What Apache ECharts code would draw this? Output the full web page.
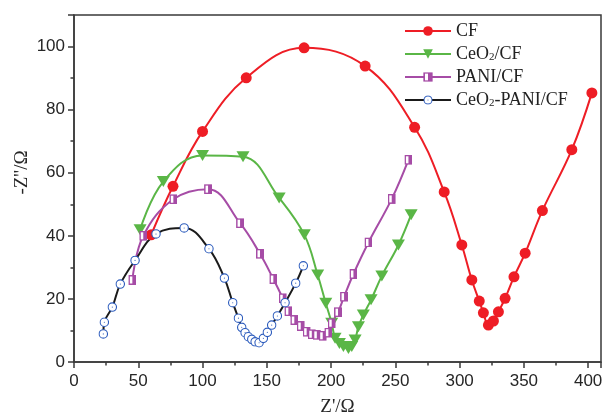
<!DOCTYPE html>
<html>
<head>
<meta charset="utf-8">
<script src="https://cdn.jsdelivr.net/npm/echarts@6.0.0/dist/echarts.min.js"></script>
<style>
  html, body { margin: 0; padding: 0; background: #fff; }
  #chart { width: 605px; height: 419px; }
</style>
</head>
<body>
<div id="chart"></div>
<script>
// series names (legend)
const names = ['CF', 'CeO2/CF', 'PANI/CF', 'CeO2-PANI/CF']

// CF
const cfX = [60, 77, 100, 134, 179, 226.5, 265, 288, 301.7, 309.5, 315.3, 318.5, 322.4, 326.3, 330.2, 335.4, 342.3, 351, 364.4, 387.3, 402.9]
const cfY = [40.3, 55.7, 73.1, 90.1, 99.6, 93.8, 74.4, 53.9, 37.1, 26, 19.3, 15.6, 11.7, 13, 15.9, 20.2, 27, 34.5, 48, 67.3, 85.3]

// CeO2/CF
const ceX = [51.4, 69.5, 100, 131.5, 159.6, 179.2, 189.6, 195.9, 200.5, 203.1, 206.5, 209.6, 213.5, 216.1, 218.7, 221.3, 225.1, 231.1, 239.5, 252.4, 262.3]
const ceY = [41.9, 57.2, 65.5, 65.1, 52, 40.3, 27.6, 18.6, 12.3, 7.5, 5.9, 4.9, 4.3, 4.9, 7.0, 11.2, 14.9, 19.7, 27.3, 37.1, 46.7]

// PANI/CF
const paniX = [45.4, 53.9, 77.3, 104.3, 129.2, 144.7, 155.1, 162.4, 166.8, 171.4, 176.4, 181, 185, 188.9, 193.5, 197.9, 200.5, 205.4, 210.1, 217.4, 229.1, 247.2, 260.2]
const paniY = [26, 40, 51.6, 54.8, 44, 34.3, 26.3, 20.2, 16.1, 13.3, 11.4, 9.6, 8.8, 8.6, 8.3, 9.3, 12.3, 15.8, 20.7, 27.9, 37.9, 51.7, 64.1]

// CeO2-PANI/CF
const mixX = [22.8, 23.6, 29.8, 36, 47.5, 63.8, 85.7, 105, 117, 123.5, 127.9, 130.5, 133.1, 135.6, 138.3, 140.9, 144, 147.3, 150.4, 153.8, 158.2, 164.2, 172.5, 178.4]
const mixY = [8.9, 12.6, 17.4, 24.7, 32.2, 40.6, 42.5, 35.9, 26.6, 18.8, 13.9, 11, 9.3, 8, 7.2, 6.4, 6.1, 7.5, 9.4, 11.7, 14.6, 18.8, 25, 30.5]

const zip = (xs, ys) => xs.map((x, i) => [x, ys[i]])

const svgUrl = (svg) => 'image://data:image/svg+xml;charset=utf-8,' + encodeURIComponent(svg)

// half filled square and dotted open circle markers
const halfSquare = svgUrl(
  "<svg xmlns='http://www.w3.org/2000/svg' width='16' height='20' viewBox='0 0 16 20'>" +
  "<rect x='1.5' y='1.5' width='13' height='17' fill='#fff' stroke='#a64ca6' stroke-width='3'/>" +
  "<rect x='8' y='1.5' width='6.5' height='17' fill='#a64ca6'/></svg>")
const dotCircle = svgUrl(
  "<svg xmlns='http://www.w3.org/2000/svg' width='20' height='20' viewBox='0 0 20 20'>" +
  "<circle cx='10' cy='10' r='8.4' fill='#fff' stroke='#2d5cbd' stroke-width='2.2'/>" +
  "<circle cx='10' cy='10' r='1.1' fill='#2d5cbd'/></svg>")

const serif = 'Liberation Serif'
const sans = 'Liberation Sans'

let chart = echarts.init(document.getElementById('chart'))

const axisCommon = {
  axisLine: { show: true, onZero: false, lineStyle: { color: '#3a3a3a', width: 1.5 } },
  axisTick: { show: true, inside: false, length: 6, lineStyle: { color: '#3a3a3a', width: 1.5 } },
  minorTick: { show: true, splitNumber: 2, length: 3.5, lineStyle: { color: '#3a3a3a', width: 1.5 } },
  splitLine: { show: false },
  axisLabel: { color: '#262626', fontFamily: sans, fontSize: 17, margin: 9, showMaxLabel: false },
  nameTextStyle: { color: '#262626', fontFamily: serif, fontSize: 19 }
}

let option = {
  animation: false,
  backgroundColor: '#fff',
  grid: {
    left: 74, right: 4, top: 15, bottom: 57, containLabel: false, outerBoundsMode: 'none',
    show: true, borderColor: '#3a3a3a', borderWidth: 1.5
  },
  xAxis: Object.assign({}, axisCommon, {
    type: 'value', min: 0, max: 410, interval: 50,
    name: "Z'/Ω", nameLocation: 'middle', nameGap: 36,
    axisLabel: { color: '#262626', fontFamily: sans, fontSize: 17, margin: 11, showMaxLabel: false }
  }),
  yAxis: Object.assign({}, axisCommon, {
    type: 'value', min: 0, max: 110, interval: 20,
    name: "-Z''/Ω", nameLocation: 'middle', nameGap: 42, nameMoveOverlap: false,
    nameTextStyle: { color: '#262626', fontFamily: serif, fontSize: 19, padding: [0, 0, 0, 32] }
  }),
  legend: {
    orient: 'vertical', left: 399, top: 17,
    itemWidth: 46, itemHeight: 12, itemGap: 5,
    data: names,
    textStyle: {
      fontFamily: serif, fontSize: 18, color: '#222', lineHeight: 18,
      rich: {
        sub: { fontFamily: serif, fontSize: 11, color: '#222', lineHeight: 7, verticalAlign: 'bottom' }
      }
    },
    formatter: (name) => name.replace(/O2/g, 'O{sub|2}')
  },
  series: [
    {
      name: names[0], type: 'line', smooth: 0.4, data: zip(cfX, cfY),
      symbol: 'circle', symbolSize: 11,
      lineStyle: { color: '#ee1d25', width: 2 },
      itemStyle: { color: '#ee1d25' }
    },
    {
      name: names[1], type: 'line', smooth: 0.4, data: zip(ceX, ceY),
      symbol: 'triangle', symbolSize: [13, 11], symbolRotate: 180,
      lineStyle: { color: '#5ab646', width: 2 },
      itemStyle: { color: '#5ab646' }
    },
    {
      name: names[2], type: 'line', smooth: 0.4, data: zip(paniX, paniY),
      symbol: halfSquare, symbolSize: [8, 10],
      lineStyle: { color: '#a64ca6', width: 2 },
      itemStyle: { color: '#a64ca6' }
    },
    {
      name: names[3], type: 'line', smooth: 0.4, data: zip(mixX, mixY),
      symbol: dotCircle, symbolSize: 10,
      lineStyle: { color: '#1a1a1a', width: 2 },
      itemStyle: { color: '#1a1a1a' }
    }
  ]
}

option && chart.setOption(option)
</script>
</body>
</html>
